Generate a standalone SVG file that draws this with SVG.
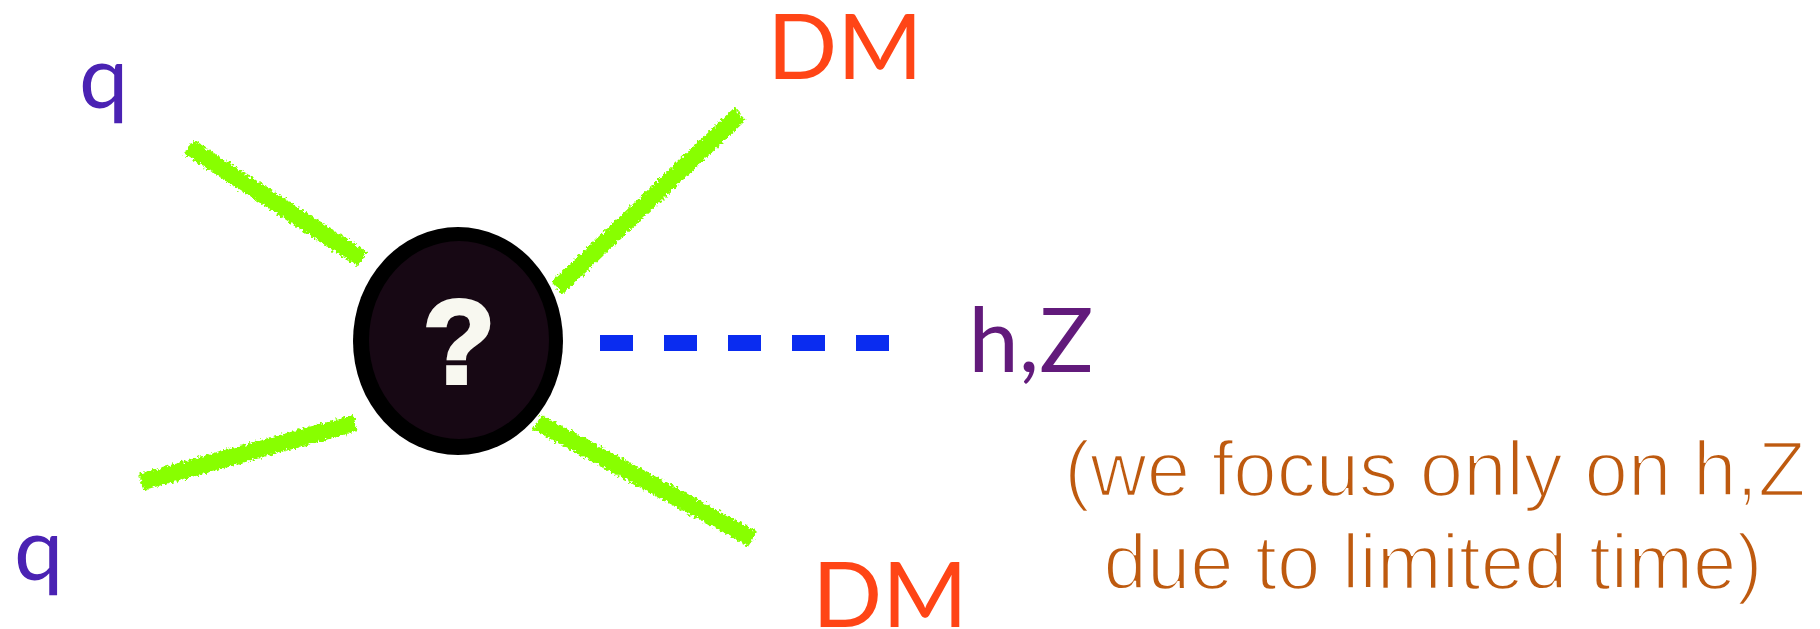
<svg xmlns="http://www.w3.org/2000/svg" width="1820" height="629" viewBox="0 0 1820 629">
  <defs>
    <filter id="chalk" filterUnits="userSpaceOnUse" x="0" y="0" width="1820" height="629">
      <feTurbulence type="fractalNoise" baseFrequency="0.35" numOctaves="2" seed="7" result="noise"/>
      <feDisplacementMap in="SourceGraphic" in2="noise" scale="7" xChannelSelector="R" yChannelSelector="G"/>
    </filter>
  </defs>
  <style>
    .q { fill: #4a22b3; }
    .dm { fill: #ff4516; }
    .hz { fill: #621a7b; }
    .qm { fill: #f8f8f0; stroke: #f8f8f0; stroke-width: 4; stroke-linejoin: miter; }
    .note { fill: #be5a0f; stroke: #ffffff; stroke-width: 2.4; }
    .fermion { stroke: #88ff00; stroke-width: 17; fill: none; stroke-linecap: butt; }
    .scalar { stroke: #0a2cf0; stroke-width: 16; fill: none; stroke-dasharray: 33 31; }
  </style>
  <rect x="0" y="0" width="1820" height="629" fill="#ffffff"/>

  <g id="connectors">
    <g filter="url(#chalk)">
      <line class="fermion" x1="189" y1="147" x2="362" y2="259"/>
      <line class="fermion" x1="141" y1="482" x2="355" y2="423"/>
      <line class="fermion" x1="557" y1="288" x2="740" y2="114"/>
      <line class="fermion" x1="537" y1="422" x2="753" y2="539"/>
    </g>
    <line class="scalar" x1="600" y1="343" x2="889" y2="343"/>
  </g>

  <g id="vertex">
    <ellipse cx="458" cy="341" rx="105" ry="114" fill="#000000"/>
    <ellipse cx="459" cy="340" rx="90" ry="99" fill="#170814"/>
    <text class="qm" x="459" y="383" font-family="Liberation Sans" font-weight="bold" font-size="118" text-anchor="middle">?</text>
  </g>

  <g id="q-top"><text class="q" x="79" y="108" font-family="Lato" font-size="88">q</text></g>
  <g id="q-bottom"><text class="q" x="14" y="580" font-family="Lato" font-size="88">q</text></g>
  <g id="dm-top"><text class="dm" x="845" y="79" font-family="Lato" font-size="92" text-anchor="middle">DM</text></g>
  <g id="dm-bottom"><text class="dm" x="890" y="627" font-family="Lato" font-size="92" text-anchor="middle">DM</text></g>
  <g id="hz"><text class="hz" x="1031" y="372" font-family="Lato" font-size="90" text-anchor="middle">h,Z</text></g>

  <g id="note" font-family="Liberation Sans" font-size="78" text-anchor="middle">
    <text class="note" x="1435" y="496">(we focus only on h,Z</text>
    <text class="note" x="1433" y="589">due to limited time)</text>
  </g>
</svg>
